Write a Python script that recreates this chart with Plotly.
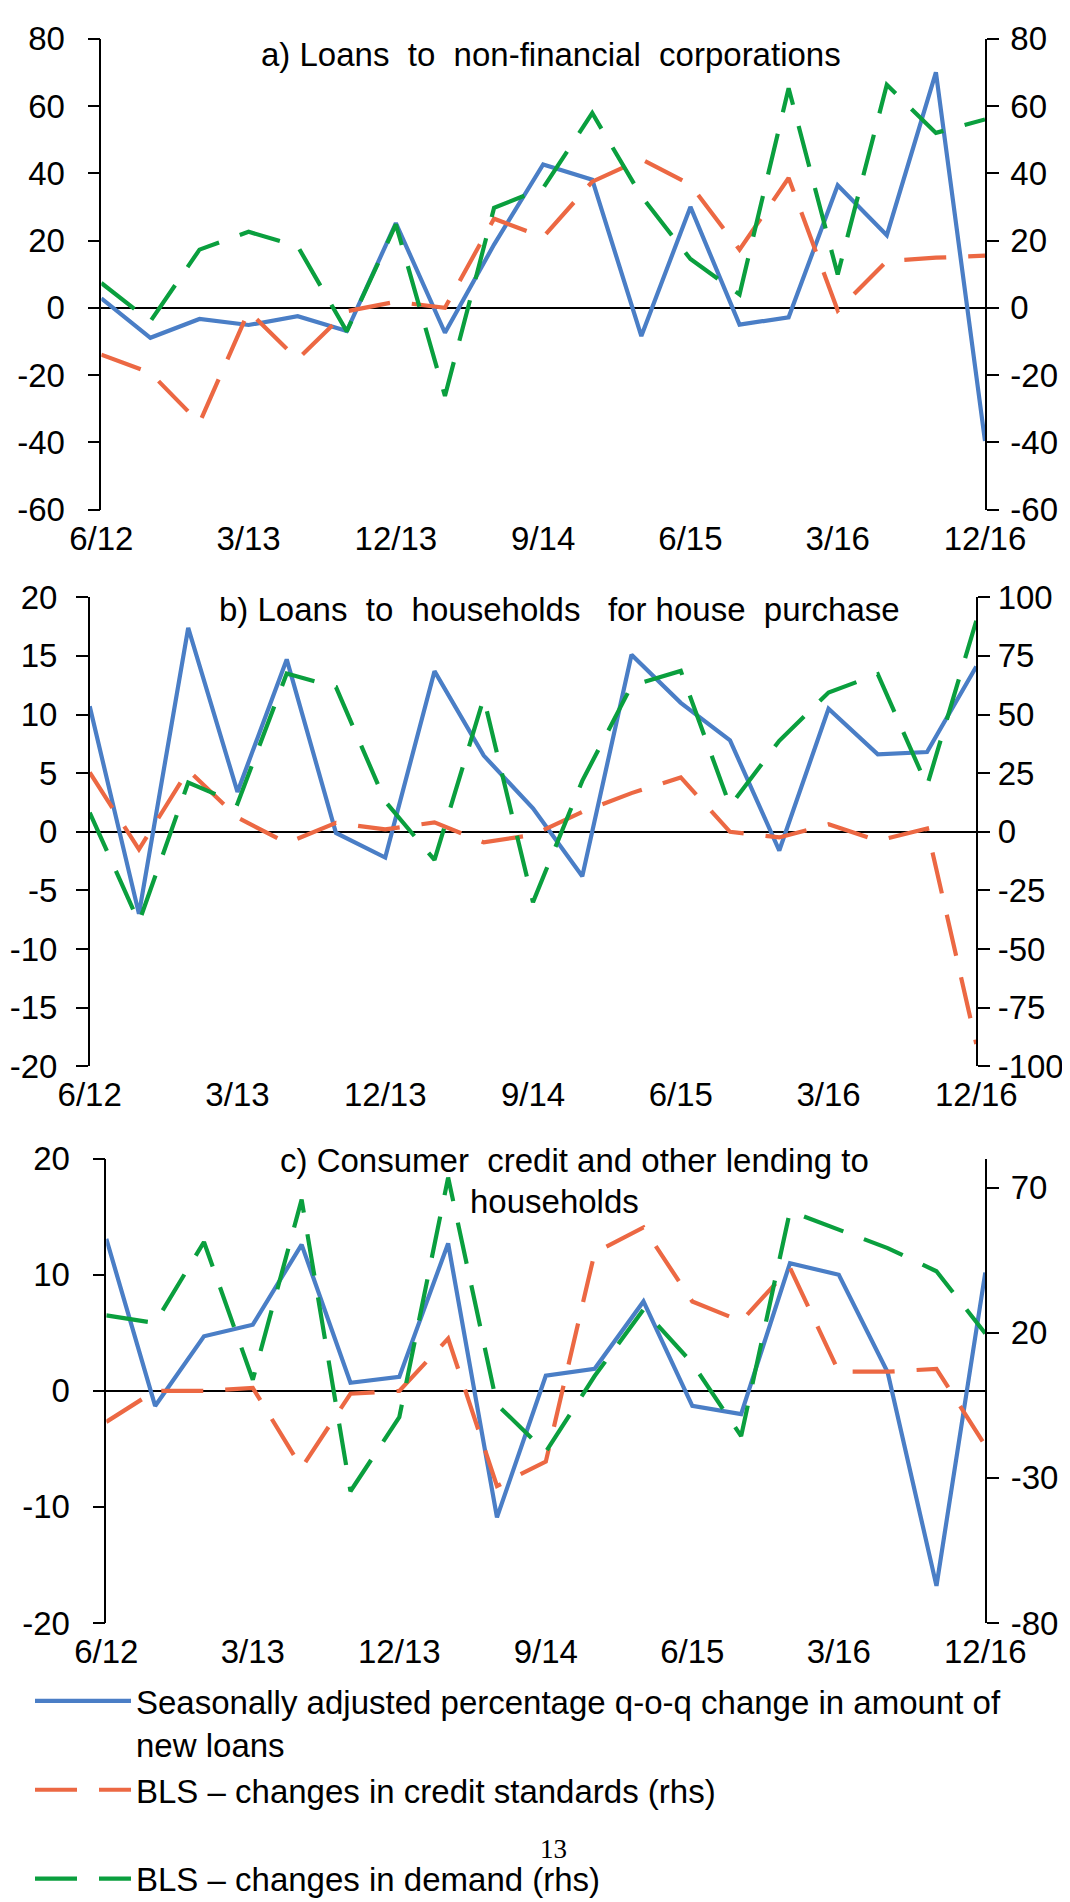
import plotly.graph_objects as go

# ---------------- data ----------------
quarters = ["6/12", "9/12", "12/12", "3/13", "6/13", "9/13", "12/13", "3/14", "6/14",
            "9/14", "12/14", "3/15", "6/15", "9/15", "12/15", "3/16", "6/16", "9/16", "12/16"]
x_tick_labels = ["6/12", "3/13", "12/13", "9/14", "6/15", "3/16", "12/16"]

# a) Loans to non-financial corporations
a_loans = [2.8, -8.9, -3.3, -5.1, -2.5, -6.9, 25.2, -7.4, 18.8, 42.6, 38.1, -8.4, 30.0,
           -5.0, -2.8, 36.4, 21.6, 70.0, -39.6]
a_standards = [-13.9, -19.3, -34.2, -1.0, -15.3, -1.0, 1.8, 0.0, 26.5, 21.0, 37.5, 44.2,
               36.6, 17.3, 38.6, -0.8, 13.9, 14.9, 15.5]
a_demand = [7.4, -4.0, 17.3, 22.6, 18.3, -7.0, 24.8, -26.2, 29.7, 35.6, 57.9, 33.2, 14.5,
            4.0, 65.3, 9.9, 66.3, 52.0, 56.0]

# b) Loans to households for house purchase
b_loans = [10.7, -7.0, 17.4, 3.4, 14.7, -0.1, -2.2, 13.7, 6.5, 2.0, -3.8, 15.1, 11.0, 7.8,
           -1.6, 10.5, 6.6, 6.8, 14.1]
b_standards = [25.3, -7.5, 26.3, 6.1, -4.8, 3.8, 1.0, 4.0, -4.5, -1.3, 8.5, 16.5, 23.2, 0.0,
               -2.4, 3.2, -3.8, 1.4, -90.5]
b_demand = [8.2, -38.6, 21.0, 12.0, 67.5, 61.7, 13.0, -12.0, 57.0, -30.0, 21.7, 62.3, 68.6,
            11.0, 38.8, 59.4, 67.2, 19.6, 90.0]

# c) Consumer credit and other lending to households
c_loans = [13.1, -1.3, 4.7, 5.7, 12.6, 0.7, 1.2, 12.7, -10.9, 1.3, 1.9, 7.7, -1.3, -2.0,
           11.0, 10.0, 1.6, -16.8, 10.2]
c_standards = [-10.7, 0.0, 0.0, 1.0, -26.5, -1.0, 0.0, 18.0, -32.8, -24.4, 47.6, 56.3, 30.8,
               24.0, 42.4, 6.6, 6.6, 7.6, -18.9]
c_demand = [26.0, 23.4, 51.3, 3.8, 65.9, -34.6, -9.1, 73.5, -4.7, -21.0, 5.1, 28.0, 9.5,
            -15.6, 61.9, 55.5, 49.2, 41.2, 19.8]

series_names = [
    "Seasonally adjusted percentage q-o-q change in amount of<br>new loans",
    "BLS \u2013 changes in credit standards (rhs)<br>\u00a0",
    "BLS \u2013 changes in demand (rhs)",
]

a_left_ticks = [-60, -40, -20, 0, 20, 40, 60, 80]
a_left_labels = ["-60", "-40", "-20", "0", "20", "40", "60", "80"]
a_right_ticks = a_left_ticks
a_right_labels = a_left_labels
b_left_ticks = [-20, -15, -10, -5, 0, 5, 10, 15, 20]
b_left_labels = ["-20", "-15", "-10", "-5", "0", "5", "10", "15", "20"]
b_right_ticks = [-100, -75, -50, -25, 0, 25, 50, 75, 100]
b_right_labels = ["-100", "-75", "-50", "-25", "0", "25", "50", "75", "100"]
c_left_ticks = [-20, -10, 0, 10, 20]
c_left_labels = ["-20", "-10", "0", "10", "20"]
c_right_ticks = [-80, -30, 20, 70]
c_right_labels = ["-80", "-30", "20", "70"]

titles = ["a) Loans\u00a0 to\u00a0 non-financial\u00a0 corporations",
          "b) Loans\u00a0 to\u00a0 households\u00a0\u00a0 for house\u00a0 purchase",
          "c) Consumer\u00a0 credit and other lending to", "households"]

# ---------------- style ----------------
W, H = 1070, 1902
FONT = "Liberation Sans, Arial, sans-serif"
BLUE = "#4A7EC6"
RED = "#EC6843"
GREEN = "#0A9F3E"
DASH = "42px,22px"

panels = [
    dict(xd=(93.3, 977.0), yd=(30.7, 501.7), lr=[-60, 80], rr=[-60, 80],
         lt=a_left_ticks, ll=a_left_labels, rt=a_right_ticks, rl=a_right_labels,
         lso=16, rso=5, data=(a_loans, a_standards, a_demand)),
    dict(xd=(81.7, 968.3), yd=(589.3, 1058.3), lr=[-20, 20], rr=[-100, 100],
         lt=b_left_ticks, ll=b_left_labels, rt=b_right_ticks, rl=b_right_labels,
         lso=12, rso=1, data=(b_loans, b_standards, b_demand)),
    dict(xd=(98.3, 977.3), yd=(1150.7, 1615.0), lr=[-20, 20], rr=[-80, 80],
         lt=c_left_ticks, ll=c_left_labels, rt=c_right_ticks, rl=c_right_labels,
         lso=16, rso=5, data=(c_loans, c_standards, c_demand)),
]

fig = go.Figure()
layout = dict(
    width=W, height=H, margin=dict(l=0, r=0, t=0, b=0, autoexpand=False),
    paper_bgcolor="white", plot_bgcolor="white",
    font=dict(family=FONT, color="black", size=33),
    showlegend=True,
)

for i, p in enumerate(panels):
    xn = "x" if i == 0 else f"x{i + 1}"
    yl_idx = 2 * i + 1
    yr_idx = 2 * i + 2
    yl = "y" if yl_idx == 1 else f"y{yl_idx}"
    yr = f"y{yr_idx}"
    xdom = [p["xd"][0] / W, p["xd"][1] / W]
    ydom = [1 - p["yd"][1] / H, 1 - p["yd"][0] / H]

    layout["xaxis" if i == 0 else f"xaxis{i + 1}"] = dict(
        domain=xdom, anchor=yl, type="category", categoryorder="array",
        categoryarray=quarters, range=[0, len(quarters) - 1],
        tickmode="array", tickvals=x_tick_labels, ticktext=x_tick_labels,
        showline=False, showgrid=False, zeroline=False, ticks="",
        ticklabelstandoff=6, tickfont=dict(size=33, family=FONT, color="black"),
        automargin=False,
    )
    layout["yaxis" if yl_idx == 1 else f"yaxis{yl_idx}"] = dict(
        domain=ydom, anchor=xn, range=p["lr"], tickmode="array",
        tickvals=p["lt"], ticktext=p["ll"], showgrid=False,
        showline=True, linecolor="black", linewidth=1.5,
        ticks="outside", ticklen=12, tickwidth=1.5, tickcolor="black",
        ticklabelstandoff=p["lso"], automargin=False,
        zeroline=True, zerolinecolor="black", zerolinewidth=1.8,
        tickfont=dict(size=33, family=FONT, color="black"),
    )
    layout[f"yaxis{yr_idx}"] = dict(
        domain=ydom, anchor=xn, overlaying=yl, side="right", range=p["rr"],
        tickmode="array", tickvals=p["rt"], ticktext=p["rl"], showgrid=False,
        showline=True, linecolor="black", linewidth=1.5,
        ticks="outside", ticklen=12, tickwidth=1.5, tickcolor="black",
        ticklabelstandoff=p["rso"], zeroline=False, automargin=False,
        tickfont=dict(size=33, family=FONT, color="black"),
    )

    loans, standards, demand = p["data"]
    fig.add_trace(go.Scatter(x=quarters, y=loans, mode="lines", xaxis=xn, yaxis=yl,
                             name=series_names[0], legendgroup="g0", showlegend=(i == 0),
                             line=dict(color=BLUE, width=4.2)))
    fig.add_trace(go.Scatter(x=quarters, y=standards, mode="lines", xaxis=xn, yaxis=yr,
                             name=series_names[1], legendgroup="g1", showlegend=(i == 0),
                             line=dict(color=RED, width=4.2, dash=DASH)))
    fig.add_trace(go.Scatter(x=quarters, y=demand, mode="lines", xaxis=xn, yaxis=yr,
                             name=series_names[2], legendgroup="g2", showlegend=(i == 0),
                             line=dict(color=GREEN, width=4.2, dash=DASH)))

layout["legend"] = dict(
    x=22 / W, y=1 - 1665 / H, xanchor="left", yanchor="top",
    orientation="v", itemwidth=96, valign="top", tracegroupgap=0,
    bgcolor="rgba(0,0,0,0)", borderwidth=0,
    font=dict(size=33, family=FONT, color="black"),
    itemclick=False, itemdoubleclick=False,
)

ann_font = dict(size=33, family=FONT, color="black")
layout["annotations"] = [
    dict(text=titles[0], x=543 / W, y=1 - 47 / H, xref="paper", yref="paper",
         showarrow=False, font=ann_font, xanchor="center", yanchor="middle"),
    dict(text=titles[1], x=551 / W, y=1 - 601 / H, xref="paper", yref="paper",
         showarrow=False, font=ann_font, xanchor="center", yanchor="middle"),
    dict(text=titles[2], x=566 / W, y=1 - 1152 / H, xref="paper", yref="paper",
         showarrow=False, font=ann_font, xanchor="center", yanchor="middle"),
    dict(text=titles[3], x=546 / W, y=1 - 1193 / H, xref="paper", yref="paper",
         showarrow=False, font=ann_font, xanchor="center", yanchor="middle"),
    dict(text="13", x=545 / W, y=1 - 1841 / H, xref="paper", yref="paper",
         showarrow=False, font=dict(size=27, family="Liberation Serif, DejaVu Serif, serif",
                                    color="black"),
         xanchor="center", yanchor="middle"),
]

fig.update_layout(**layout)
fig.write_html("out.html")
